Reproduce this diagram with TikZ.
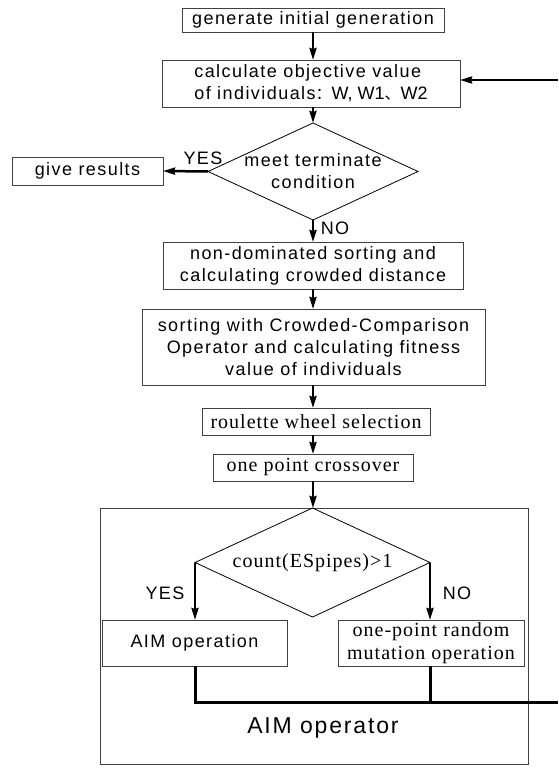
\documentclass[tikz,border=0pt]{standalone}
\usepackage{fontspec}
\setmainfont{Liberation Sans}
\newfontfamily\arsp[LetterSpace=8]{Liberation Sans}
\newfontfamily\tmsp[LetterSpace=5]{Liberation Serif}
\newfontfamily\cjk{Noto Sans CJK SC}
\usetikzlibrary{arrows.meta,shapes.geometric}
\begin{document}
\begin{tikzpicture}[x=1pt,y=-1pt,
  box/.style={draw=black!75,line width=0.9pt,inner sep=0pt,outer sep=0pt,align=center},
  artext/.style={font=\arsp\fontsize{18}{22}\selectfont},
  tmtext/.style={font=\tmsp\fontsize{20}{23}\selectfont},
  decision/.style={diamond,draw=black,line width=0.8pt,inner sep=0pt,outer sep=0pt},
  flow/.style={line width=2.5pt,-{Stealth[length=12pt,width=7pt,inset=1pt]}},
  bus/.style={line width=3pt},
  lbl/.style={font=\arsp\fontsize{18}{22}\selectfont,inner sep=0pt}]
\path[fill=white,use as bounding box] (0,0) rectangle (558,768);
% boxes
\node[box,artext,minimum width=262pt,minimum height=24pt] (gen) at (313,20) {generate initial generation};
\node[box,artext,minimum width=298pt,minimum height=47pt,align=left] (calc) at (311,83.5) {calculate objective value\\of individuals{\cjk\fontsize{16}{22}\selectfont ：}{\normalfont W, W1}{\cjk\fontsize{16}{22}\selectfont 、}{\normalfont W2}};
\node[decision,minimum width=210pt,minimum height=97pt] (d1) at (313,171.5) {};
\node[artext,align=center,inner sep=0pt] (d1t) at (d1.center) {meet terminate\\condition};
\node[box,artext,minimum width=151pt,minimum height=28pt] (give) at (87.5,171) {give results};
\node[box,artext,minimum width=300pt,minimum height=47pt] (nondom) at (313,265.5) {non-dominated sorting and\\calculating crowded distance};
\node[box,artext,minimum width=343pt,minimum height=76pt] (sort) at (313.5,347) {sorting with Crowded-Comparison\\Operator and calculating fitness\\value of individuals};
\node[box,tmtext,minimum width=228pt,minimum height=27pt] (roul) at (316,421.5) {roulette wheel selection};
\node[box,tmtext,minimum width=200pt,minimum height=27pt] (cross) at (313,467.5) {one point crossover};
\node[box,minimum width=428pt,minimum height=256pt] (aimbox) at (314,636) {};
\node[decision,minimum width=235pt,minimum height=109pt] (d2) at (312.5,562.5) {};
\node[tmtext,inner sep=0pt] (d2t) at (d2.center) {count(ESpipes)>1};
\node[box,artext,minimum width=185pt,minimum height=46pt] (aim) at (194.5,643) {AIM operation};
\node[box,tmtext,minimum width=186pt,minimum height=46pt] (rand) at (431,643) {one-point random\\mutation operation};
\node[font=\arsp\fontsize{23}{26}\selectfont,inner sep=0pt] (aimlbl) at (323,728) {AIM operator};
% labels
\node[lbl] (yes1) at (203,158) {YES};
\node[lbl] (no1) at (335,228) {NO};
\node[lbl] (yes2) at (165,593) {YES};
\node[lbl] (no2) at (457,593) {NO};
% free ends
\coordinate (fb) at (558,80);
\coordinate (busend) at (558,702);
% connectors
\draw[flow] (gen.south) -- (calc.north -| gen.south);
\draw[flow] (fb) -- (fb -| calc.east);
\draw[flow] (calc.south -| d1.north) -- (d1.north);
\draw[flow] (d1.west) -- (give.east);
\draw[flow] (d1.south) -- (nondom.north);
\draw[flow] (nondom.south) -- (sort.north -| nondom.south);
\draw[flow] (sort.south -| nondom.south) -- (roul.north -| nondom.south);
\draw[flow] (roul.south -| nondom.south) -- (cross.north);
\draw[flow] (cross.south) -- (d2.north -| cross.south);
\draw[flow] (d2.west) -- (d2.west |- aim.north);
\draw[flow] (d2.east) -- (d2.east |- rand.north);
\draw[bus] (d2.west |- aim.south) -- (d2.west |- busend) -- (busend);
\draw[bus] (d2.east |- rand.south) -- (d2.east |- busend);
\end{tikzpicture}
\end{document}
